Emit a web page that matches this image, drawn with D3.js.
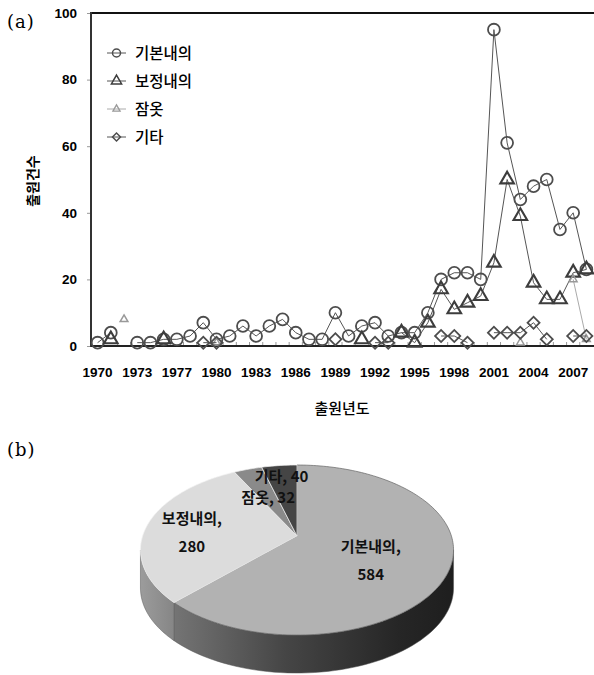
<!DOCTYPE html>
<html><head><meta charset="utf-8">
<script src="https://cdn.jsdelivr.net/npm/d3@7"></script>
<style>body{margin:0;background:#fff} svg{display:block}</style>
</head><body>
<svg id="c" width="594" height="675"></svg>
<script>
// ---------- data ----------
const years = [1970,1971,1972,1973,1975,1976,1977,1978,1979,1980,1981,1982,1983,1984,1985,1986,1987,1988,1989,1990,1991,1992,1993,1994,1995,1996,1997,1998,1999,2000,2001,2002,2003,2004,2005,2006,2007,2008];
const xTickYears = [1970,1973,1977,1980,1983,1986,1989,1992,1995,1998,2001,2004,2007];
const yTicks = [0,20,40,60,80,100];
const seriesNames = ["기본내의","보정내의","잠옷","기타"];
const basic   = [1,4,null,1,1,2,2,3,7,2,3,6,3,6,8,4,2,2,10,3,6,7,3,4,4,10,20,22,22,20,95,61,44,48,50,35,40,23];
const revised = [null,2,null,null,null,2,null,null,null,null,null,null,null,null,null,null,null,null,null,null,2,null,null,4,1,7,17,11,13,15,25,50,39,19,14,14,22,23];
const pajama  = [null,null,8,null,null,null,null,null,null,1,null,null,null,null,null,null,null,null,null,null,null,null,null,null,null,null,null,null,null,null,null,null,1,null,null,null,20,2];
const other   = [null,null,null,null,null,null,null,null,1,1,null,null,null,null,null,null,null,null,2,null,null,1,1,null,null,null,3,3,1,null,4,4,4,7,2,null,3,3];
const pieLabels = ["기본내의","보정내의","잠옷","기타"];
const pieValues = [584,280,32,40];

// ---------- setup ----------
const svg = d3.select("#c");
const KR = "'Noto Sans CJK KR', sans-serif";
const NUM = "'Liberation Sans', Arial, sans-serif";
const SERIF = "'DejaVu Serif', 'Liberation Serif', serif";

svg.append("text").attr("x",7).attr("y",28).attr("font-family",SERIF).attr("font-size",18).attr("letter-spacing",1).text("(a)");
svg.append("text").attr("x",7).attr("y",456).attr("font-family",SERIF).attr("font-size",18).attr("letter-spacing",1).text("(b)");

const plot = {left:91, right:593, top:13, bottom:346};
const x = d3.scaleBand().domain(years).range([plot.left, plot.right]);
const xc = yr => x(yr) + x.bandwidth()/2;
const y = d3.scaleLinear().domain([0,100]).range([plot.bottom, plot.top]);

// y axis
const gy = svg.append("g").attr("transform",`translate(${plot.left},0)`)
  .call(d3.axisLeft(y).tickValues(yTicks).tickSize(4).tickPadding(10));
gy.select(".domain").remove();
gy.selectAll(".tick line").attr("stroke","#999");
gy.selectAll(".tick text").attr("font-family",NUM).attr("font-weight","bold").attr("font-size",13.5).attr("fill","#000");

// x axis labels
const gx = svg.append("g").attr("transform",`translate(0,${plot.bottom})`)
  .call(d3.axisBottom(x).tickValues(xTickYears).tickSize(0).tickPadding(21));
gx.select(".domain").remove();
gx.selectAll(".tick text").attr("font-family",NUM).attr("font-weight","bold").attr("font-size",13.5).attr("fill","#000");
// x ticks at category boundaries (inward)
svg.append("g").selectAll("line").data(years.slice(1)).join("line")
  .attr("x1",d=>x(d)).attr("x2",d=>x(d)).attr("y1",plot.bottom).attr("y2",plot.bottom-4)
  .attr("stroke","#999").attr("stroke-width",1);

// frame
svg.append("line").attr("x1",plot.left).attr("x2",594).attr("y1",plot.top).attr("y2",plot.top).attr("stroke","#111").attr("stroke-width",2);
svg.append("line").attr("x1",plot.left).attr("x2",plot.left).attr("y1",plot.top-1).attr("y2",plot.bottom+1).attr("stroke","#333").attr("stroke-width",2);
svg.append("line").attr("x1",plot.left).attr("x2",594).attr("y1",plot.bottom).attr("y2",plot.bottom).attr("stroke","#222").attr("stroke-width",2);

// titles
svg.append("text").attr("transform","translate(32,181) rotate(-90)").attr("text-anchor","middle")
  .attr("dominant-baseline","central").attr("font-family",KR).attr("font-weight","bold").attr("font-size",14).text("출원건수");
svg.append("text").attr("x",342).attr("y",414).attr("text-anchor","middle")
  .attr("font-family",KR).attr("font-weight",500).attr("font-size",15).text("출원년도");

// ---------- series ----------
const circleSym = d3.symbol(d3.symbolCircle, 110)();
const triSym = d3.symbol(d3.symbolTriangle, 80)();
const smallTri = d3.symbol(d3.symbolTriangle, 26)();
const diaSym = d3.symbol(d3.symbolSquare, 72)();

const seriesDefs = [
  {name:seriesNames[0], vals:basic,   line:"#555", lw:1,   sym:circleSym, mstroke:"#4d4d4d", mw:1.8, rot:0},
  {name:seriesNames[1], vals:revised, line:"#555", lw:1,   sym:triSym,    mstroke:"#3d3d3d", mw:2.1, rot:0},
  {name:seriesNames[2], vals:pajama,  line:"#aaa", lw:1,   sym:smallTri,  mstroke:"#999", mw:1.5, rot:0},
  {name:seriesNames[3], vals:other,   line:"#555", lw:1,   sym:diaSym,    mstroke:"#4d4d4d", mw:1.8, rot:45}
];

const lineGen = d3.line().defined(d=>d.v!==null).x(d=>xc(d.yr)).y(d=>y(d.v));
const plotG = svg.append("g");
seriesDefs.forEach(s=>{
  const pts = years.map((yr,i)=>({yr, v:s.vals[i]}));
  plotG.append("path").attr("d",lineGen(pts)).attr("fill","none").attr("stroke",s.line).attr("stroke-width",s.lw);
  plotG.append("g").selectAll("path").data(pts.filter(d=>d.v!==null)).join("path")
    .attr("d",s.sym)
    .attr("transform",d=>`translate(${xc(d.yr)},${y(d.v)}) rotate(${s.rot})`)
    .attr("fill","none").attr("stroke",s.mstroke).attr("stroke-width",s.mw);
});

// legend
const legSyms = [d3.symbol(d3.symbolCircle,50)(), d3.symbol(d3.symbolTriangle,45)(), d3.symbol(d3.symbolTriangle,22)(), d3.symbol(d3.symbolSquare,32)()];
const legG = svg.append("g");
seriesDefs.forEach((s,i)=>{
  const yy = 53 + i*28;
  legG.append("line").attr("x1",107).attr("x2",126).attr("y1",yy).attr("y2",yy).attr("stroke",s.line).attr("stroke-width",1);
  legG.append("path").attr("d",legSyms[i]).attr("transform",`translate(116.5,${yy}) rotate(${s.rot})`)
    .attr("fill","none").attr("stroke",s.mstroke).attr("stroke-width",i===2?1.3:1.5);
  legG.append("text").attr("x",135).attr("y",yy+6).attr("font-family",KR).attr("font-weight",500).attr("font-size",15.5).text(s.name);
});

// ---------- 3D pie ----------
const P = {cx:297, cy:536, A:154.4, B:82.7, k:0.165, h:38};
function proj(a, r){
  const u = r*Math.sin(a), v = r*Math.cos(a), den = 1 + P.k*v;
  return [P.cx + P.A*u/den, P.cy - P.B*v/den];
}
const pie = d3.pie().sort(null).value(d=>d)(pieValues);
const topCols = ["#b2b2b2","#dcdcdc","#8a8a8a","#454545"];
const defs = svg.append("defs");
const g1 = defs.append("linearGradient").attr("id","side0").attr("gradientUnits","userSpaceOnUse")
  .attr("x1",170).attr("x2",455).attr("y1",0).attr("y2",0);
[[0,"#767676"],[0.4,"#464646"],[0.8,"#262626"],[1,"#1e1e1e"]].forEach(s=>g1.append("stop").attr("offset",s[0]).attr("stop-color",s[1]));
const g2 = defs.append("linearGradient").attr("id","side1").attr("gradientUnits","userSpaceOnUse")
  .attr("x1",140).attr("x2",175).attr("y1",0).attr("y2",0);
[[0,"#9c9c9c"],[1,"#858585"]].forEach(s=>g2.append("stop").attr("offset",s[0]).attr("stop-color",s[1]));

const vis0 = Math.acos(-P.k), vis1 = 2*Math.PI - Math.acos(-P.k);
const pieG = svg.append("g");
pie.forEach((sl,i)=>{
  const lo = Math.max(sl.startAngle, vis0), hi = Math.min(sl.endAngle, vis1);
  if (lo < hi) {
    const n = 60, top = [], bot = [];
    for (let j=0;j<=n;j++){ const a = lo + (hi-lo)*j/n; const p = proj(a,1); top.push(p); bot.push([p[0],p[1]+P.h]); }
    const pts = top.concat(bot.reverse());
    pieG.append("path").attr("d","M"+pts.map(p=>p.join(",")).join("L")+"Z")
      .attr("fill",`url(#side${i})`).attr("stroke","#555").attr("stroke-width",0.5);
  }
});
pie.forEach((sl,i)=>{
  const n = Math.max(4, Math.ceil((sl.endAngle-sl.startAngle)*40)), pts=[];
  for (let j=0;j<=n;j++){ pts.push(proj(sl.startAngle+(sl.endAngle-sl.startAngle)*j/n,1)); }
  pieG.append("path").attr("d",`M${P.cx},${P.cy}L`+pts.map(p=>p.join(",")).join("L")+"Z")
    .attr("fill",topCols[i]).attr("stroke",i===0?"#666":"#f2f2f2").attr("stroke-width",0.7);
});
// labels
const labelR = [0.5,0.7,0.55,0.85];
const labelDy = [9,5,1,2];
const twoLine = [true,true,false,false];
pie.forEach((sl,i)=>{
  const mid = (sl.startAngle+sl.endAngle)/2;
  const p = proj(mid, labelR[i]);
  const t = pieG.append("text").attr("text-anchor","middle").attr("font-family",KR)
    .attr("font-weight","bold").attr("font-size",15).attr("fill","#111");
  if (twoLine[i]) {
    t.append("tspan").attr("x",p[0]).attr("y",p[1]+labelDy[i]-9).text(pieLabels[i]+",");
    t.append("tspan").attr("x",p[0]).attr("y",p[1]+labelDy[i]+19).text(pieValues[i]);
  } else {
    t.append("tspan").attr("x",p[0]).attr("y",p[1]+labelDy[i]+5).text(pieLabels[i]+", "+pieValues[i]);
  }
});
</script>
</body></html>
